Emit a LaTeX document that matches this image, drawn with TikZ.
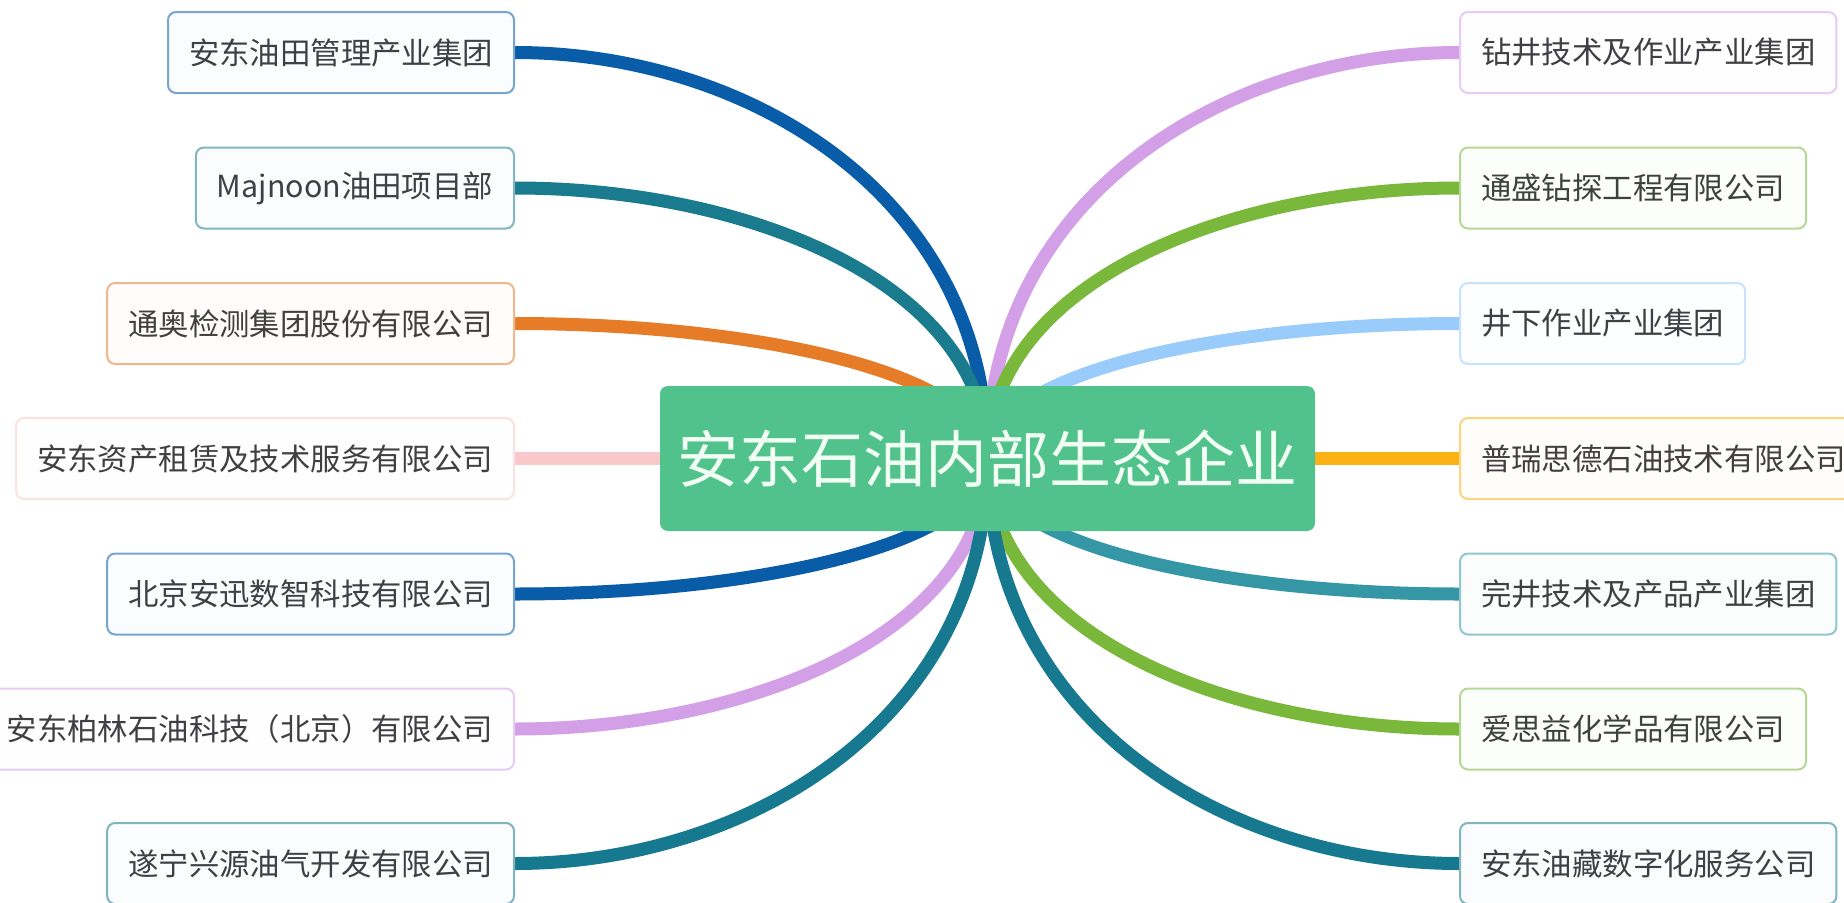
\documentclass[tikz,border=0pt]{standalone}
\usepackage{fontspec}
\newfontfamily\cjk{Noto Sans CJK SC}
\usetikzlibrary{backgrounds}
\pgfdeclarelayer{wires}
\pgfsetlayers{background,wires,main}
\definecolor{cblue}{HTML}{095CA8}
\definecolor{cteal}{HTML}{1A7A8E}
\definecolor{corange}{HTML}{E67C28}
\definecolor{cpink}{HTML}{F9C8CA}
\definecolor{clav}{HTML}{D3A0E8}
\definecolor{cteal2}{HTML}{17798F}
\definecolor{cgreen}{HTML}{7AB83C}
\definecolor{clblue}{HTML}{99CCFA}
\definecolor{camber}{HTML}{FAB214}
\definecolor{cteal3}{HTML}{3597A6}
\definecolor{rootfill}{HTML}{52C28C}
\definecolor{roottext}{HTML}{F2FFF4}
\definecolor{txt}{HTML}{404040}
\tikzset{
  leaf/.style={draw=#1!55!white, fill=#1!2!white, line width=2pt, rounded corners=8pt,
    minimum height=81pt, inner xsep=21pt, inner ysep=0pt, text=txt,
    font=\cjk\fontsize{30.4}{36}\selectfont},
  lleaf/.style={leaf=#1, anchor=east},
  rleaf/.style={leaf=#1, anchor=west},
  link/.style={draw=#1, line width=13pt},
  rootbox/.style={fill=rootfill, rounded corners=8pt, minimum width=655pt, minimum height=145pt,
    inner sep=0pt, text=roottext, font=\cjk\fontsize{62}{72}\selectfont}
}
\begin{document}
\begin{tikzpicture}[x=1pt,y=-1pt]
\useasboundingbox (0,0) rectangle (1844,902);
\begin{pgfonlayer}{background}
\fill[white] (0,0) rectangle (1844,902);
\end{pgfonlayer}
\clip (0,0) rectangle (1844,902);
\node[rootbox] (root) at (987.5,458.5) {安东石油内部生态企业};
% left
\node[lleaf=cblue]   (l1) at (515,52.5)  {安东油田管理产业集团};
\node[lleaf=cteal]   (l2) at (515,188)   {Majnoon油田项目部};
\node[lleaf=corange] (l3) at (515,323.5) {通奥检测集团股份有限公司};
\node[lleaf=cpink]   (l4) at (515,458.5) {安东资产租赁及技术服务有限公司};
\node[lleaf=cblue]   (l5) at (515,594)   {北京安迅数智科技有限公司};
\node[lleaf=clav]    (l6) at (515,729)   {安东柏林石油科技（北京）有限公司};
\node[lleaf=cteal2]  (l7) at (515,863.5) {遂宁兴源油气开发有限公司};
% right
\node[rleaf=clav]    (r1) at (1459,52.5)  {钻井技术及作业产业集团};
\node[rleaf=cgreen]  (r2) at (1459,188)   {通盛钻探工程有限公司};
\node[rleaf=clblue]  (r3) at (1459,323.5) {井下作业产业集团};
\node[rleaf=camber]  (r4) at (1459,458.5) {普瑞思德石油技术有限公司};
\node[rleaf=cteal3]  (r5) at (1459,594)   {完井技术及产品产业集团};
\node[rleaf=cgreen]  (r6) at (1459,729)   {爱思益化学品有限公司};
\node[rleaf=cteal2]  (r7) at (1459,863.5) {安东油藏数字化服务公司};
\begin{pgfonlayer}{wires}
\draw[link=cblue]   (l1.east) .. controls (751,52.5)  and (987.5,198.7) .. (root.center);
\draw[link=cteal]   (l2.east) .. controls (751,188)   and (987.5,285.4) .. (root.center);
\draw[link=corange] (l3.east) .. controls (751,323.5) and (987.5,372.1) .. (root.center);
\draw[link=cpink]   (l4.east) -- (root.center);
\draw[link=cblue]   (l5.east) .. controls (751,594)   and (987.5,545.2) .. (root.center);
\draw[link=clav]    (l6.east) .. controls (751,729)   and (987.5,631.6) .. (root.center);
\draw[link=cteal2]  (l7.east) .. controls (751,863.5) and (987.5,717.7) .. (root.center);
\draw[link=clav]    (r1.west) .. controls (1223,52.5)  and (987.5,198.7) .. (root.center);
\draw[link=cgreen]  (r2.west) .. controls (1223,188)   and (987.5,285.4) .. (root.center);
\draw[link=clblue]  (r3.west) .. controls (1223,323.5) and (987.5,372.1) .. (root.center);
\draw[link=camber]  (r4.west) -- (root.center);
\draw[link=cteal3]  (r5.west) .. controls (1223,594)   and (987.5,545.2) .. (root.center);
\draw[link=cgreen]  (r6.west) .. controls (1223,729)   and (987.5,631.6) .. (root.center);
\draw[link=cteal2]  (r7.west) .. controls (1223,863.5) and (987.5,717.7) .. (root.center);
\end{pgfonlayer}
\end{tikzpicture}
\end{document}
